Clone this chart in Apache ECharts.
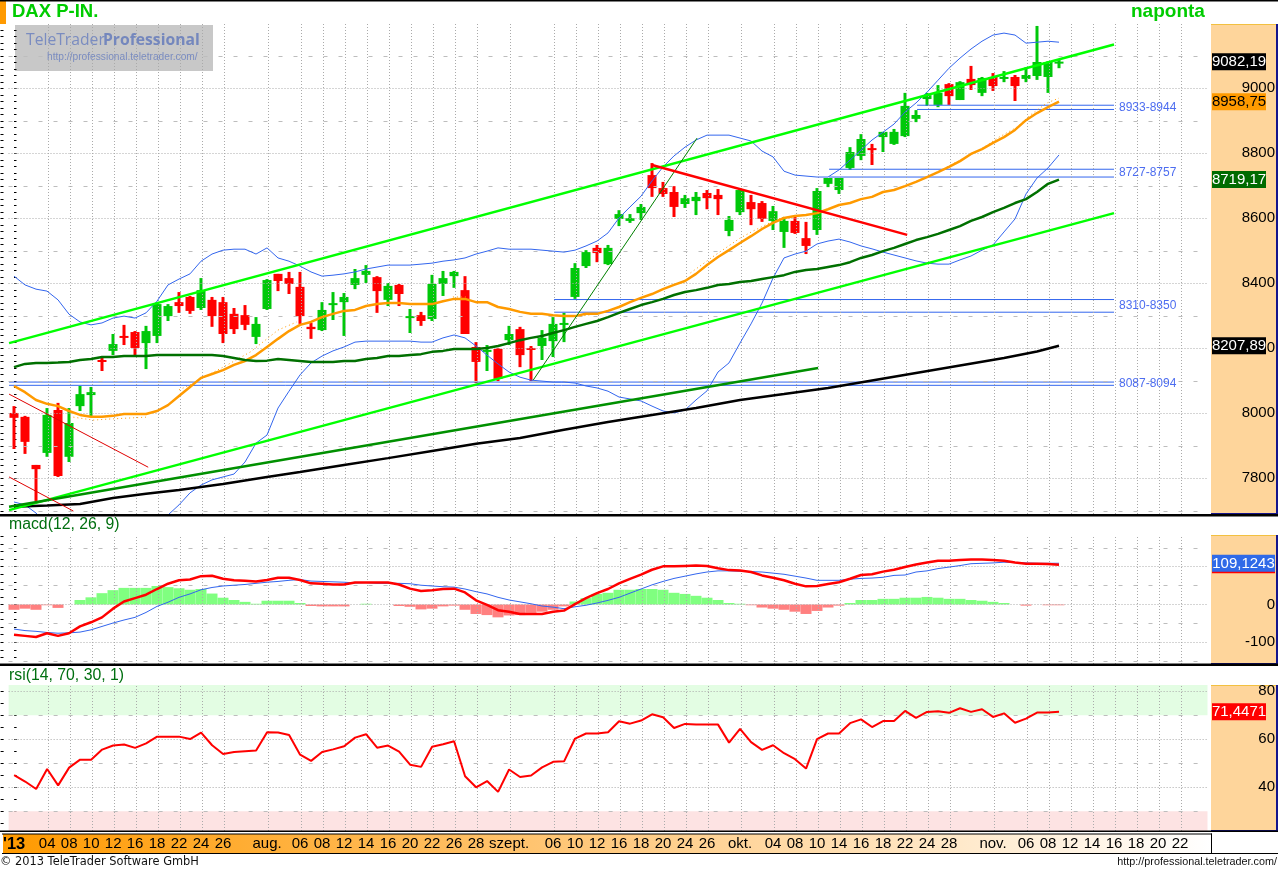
<!DOCTYPE html>
<html><head><meta charset="utf-8">
<style>html,body{margin:0;padding:0;background:#fff}#c{width:1278px;height:871px}</style>
<script src="https://cdn.jsdelivr.net/npm/echarts@6/dist/echarts.min.js"></script>
</head><body><div id="c"></div>
<script>
// [open, close, low, high] per session
const ohlc=[
[8001,7986,7890,8022],[7989,7912,7875,7992],[7841,7828,7730,7841],[7878,7995,7866,8016],[8010,7807,7804,8032],[7866,7970,7850,8016],[8022,8059,8007,8084],[8056,8065,7989,8081],
[8164,8158,8130,8173],[8192,8213,8179,8244],[8238,8232,8210,8272],[8250,8201,8179,8253],[8216,8253,8136,8269],[8238,8336,8216,8339],[8299,8330,8284,8336],[8342,8330,8309,8373],
[8358,8315,8306,8361],[8324,8379,8318,8416],[8349,8299,8266,8358],[8342,8244,8216,8358],[8306,8259,8244,8324],[8302,8272,8256,8333],[8235,8275,8213,8296],[8321,8410,8318,8413],
[8429,8407,8376,8429],[8416,8398,8367,8435],[8389,8299,8275,8435],[8266,8259,8229,8278],[8256,8318,8253,8342],[8333,8339,8287,8373],[8342,8358,8238,8370],[8395,8416,8382,8444],
[8426,8438,8401,8456],[8419,8376,8309,8422],[8349,8392,8330,8401],[8395,8367,8330,8398],[8293,8299,8247,8321],[8302,8284,8269,8312],[8290,8398,8284,8426],[8398,8416,8361,8438],
[8422,8435,8386,8438],[8379,8244,8244,8422],[8204,8158,8093,8219],[8189,8195,8130,8210],[8198,8106,8099,8201],[8225,8244,8210,8269],[8259,8179,8142,8266],[8201,8195,8099,8207],
[8207,8232,8164,8256],[8222,8275,8173,8296],[8272,8278,8219,8309],[8358,8447,8352,8462],[8453,8496,8447,8502],[8509,8493,8465,8518],[8459,8509,8456,8518],[8598,8613,8576,8625],
[8592,8601,8586,8613],[8616,8635,8595,8644],[8733,8693,8666,8770],[8693,8675,8666,8712],[8681,8635,8604,8699],[8644,8662,8632,8672],[8653,8666,8610,8681],[8678,8662,8628,8687],
[8672,8659,8610,8690],[8561,8595,8545,8607],[8619,8687,8610,8693],[8650,8628,8579,8672],[8647,8598,8589,8653],[8592,8622,8564,8638],[8558,8592,8509,8604],[8592,8555,8552,8610],
[8539,8515,8490,8589],[8564,8684,8549,8693],[8706,8724,8696,8724],[8687,8724,8675,8724],[8755,8804,8749,8819],[8792,8844,8779,8859],[8816,8810,8764,8829],[8850,8866,8804,8866],
[8829,8866,8826,8875],[8853,8946,8850,8986],[8906,8918,8896,8933],[8967,8979,8946,8986],[8949,8986,8942,9010],[9013,8976,8949,9016],[8964,9019,8964,9022],[9029,9010,8995,9069],
[8986,9032,8976,9035],[9035,9007,8992,9047],[9029,9035,9019,9053],[9035,9007,8961,9041],[9029,9041,9019,9065],[9038,9081,9026,9192],[9035,9081,8986,9084],[9078,9082.19,9062,9090]];

const maOrange=[8084,8065,8041,8029,8022,8007,7995,7989,7989,7992,7998,7998,7998,8007,8025,8053,8081,8109,8121,8133,8149,8161,8179,8204,8229,8253,8272,8281,
8296,8306,8315,8318,8330,8336,8339,8339,8336,8336,8336,8345,8352,8352,8342,8342,8327,8321,8312,8306,8306,8302,8299,8299,8306,8306,8315,8327,
8342,8355,8367,8382,8395,8407,8429,8456,8481,8502,8524,8545,8567,8586,8601,8607,8610,8616,8628,8641,8647,8659,8666,8681,8687,8699,8712,8727,8742,8758,8776,8798,8813,8832,8850,8872,8902,8924,8942,8958.75];
const orangeDots=[[5.4,7988],[7.2,7979],[8.5,7982],[12,7988],null,[15,8072],[16.2,8090],[18.5,8133],[19.4,8149],[21.5,8189],[24,8256],[25.7,8281],null,[39.9,8358],[41.2,8358],null,[51.5,8299],[53,8306],null,[61.5,8432],[63.5,8481],[66,8539],[67.2,8561],[68.7,8586],[70,8604],null,[84.8,8758],[87.8,8810],[89.4,8847],[91.2,8881],[92.4,8918],[93.9,8955],[95,8970]];
const maDarkGreen=[8142,8152,8155,8155,8156,8158,8164,8167,8173,8173,8176,8176,8176,8179,8179,8179,8179,8179,8179,8176,8170,8164,8161,8162,8167,8164,8161,8158,
8158,8158,8161,8161,8167,8170,8176,8176,8179,8182,8189,8192,8198,8198,8198,8201,8207,8216,8225,8232,8238,8247,8256,8266,8275,8284,8296,8309,
8321,8333,8342,8352,8364,8373,8379,8386,8395,8398,8404,8407,8413,8419,8425,8435,8441,8444,8450,8456,8465,8478,8487,8499,8509,8521,8533,8542,8552,8564,8576,8592,8604,8619,8632,8647,8659,8681,8706,8719.17];
const maBlack=[[0,7712],[3,7716],[6,7721],[9,7739],[12,7752],[15,7764],[19,7782],[23,7804],[26,7819],[30,7841],[34,7862],[38,7884],[42,7906],[46,7924],[50,7949],[54,7973],[58,7995],[62,8016],[66,8041],[70,8059],[74,8078],[78,8101],[82,8124],[86,8147],[90,8170],[93,8190],[95,8207.89]];
const bollUpper=[8422,8395,8382,8376,8349,8305,8281,8272,8278,8293,8299,8293,8309,8345,8395,8413,8429,8468,8490,8502,8505,8505,8490,8509,8478,8468,8453,8435,8422,8425,8429,8435,8444,8450,8456,8456,8456,8459,8462,8468,8472,8478,8490,8499,8509,8505,8505,8505,8502,8499,8496,8502,8515,8530,8555,8601,8635,8668,8715,8758,8792,8819,8841,8856,8856,8856,8847,8838,8807,8789,8745,8733,8730,8727,8727,8749,8779,8810,8841,8865,8890,8927,8955,8988,9025,9062,9093,9121,9145,9164,9170,9164,9139,9142,9145,9142];
const bollLower=[7727,7718,7693,7656,7610,7548,7518,7518,7518,7533,7564,7610,7647,7672,7687,7718,7755,7779,7795,7804,7813,7850,7908,7933,8016,8068,8118,8155,8176,8192,8204,8219,8222,8222,8222,8222,8222,8219,8219,8232,8241,8232,8207,8179,8152,8127,8111,8102,8099,8096,8096,8093,8084,8078,8068,8050,8044,8038,8022,8007,8001,8010,8041,8069,8127,8155,8216,8275,8339,8416,8478,8490,8499,8521,8530,8536,8527,8515,8506,8496,8487,8478,8469,8462,8459,8459,8472,8484,8502,8518,8558,8598,8675,8724,8755,8795];

// straight studies drawn on the chart: [[x0,y0],[x1,y1]] in session index / price
const channelTop=[[-0.45,8216],[100,9135]];
const channelBottom=[[-0.45,7702],[100,8616]];
const trendDark=[[-0.45,7712],[73.1,8139]];
const trendThinGreen=[[47.2,8102],[62.1,8847]];
const trendRed=[[58,8764],[81.2,8549]];
const trendThinRed1=[[-0.45,8059],[12.2,7834]];
const trendThinRed2=[[-0.45,7804],[5.4,7699]];
const levelNames=['8933-8944','8727-8757','8310-8350','8087-8094'];
const levelHigh=[8948,8751,8350,8096];
const levelLow=[8935,8727,8311,8086];
const levelFrom=[82.1,74.1,49.1,-0.45];
const levelTo=100;

const macdLine=[-80,-83,-86,-76,-83,-76,-58,-47,-34,-11,8,17,26,41,55,64,66,75,76,68,64,63,61,65,71,71,65,56,55,53,53,58,58,58,58,53,42,36,38,41,42,32,11,-1,-15,-19,-25,-25,-25,-19,-16,1,17,30,41,56,68,79,92,101,101,102,103,102,96,91,90,86,77,71,64,55,48,49,54,59,68,78,80,87,92,99,106,111,116,116,118,119,119,118,116,111,108,108,107,105];
const macdSignal=[-65,-69,-71,-74,-76,-75,-73,-67,-58,-49,-41,-34,-21,-5,6,19,28,39,45,49,51,53,56,59,61,64,66,62,61,60,59,57,58,56,56,56,55,51,49,47,46,41,34,28,19,12,7,2,-4,-7,-11,-6,-2,4,11,19,30,41,52,61,69,75,81,86,89,89,88,87,86,83,80,75,70,64,64,64,67,69,70,72,77,78,86,89,95,99,103,108,109,110,112,111,110,109,109,109.12];
const macdHist=[-14,-11,-14,-2,-9,0,12,19,30,38,44,44,44,49,46,43,39,41,29,18,12,7,2,10,10,10,4,-4,-5,-5,-5,0,2,0,0,-4,-6,-13,-11,-5,-3,-14,-25,-28,-34,-29,-28,-22,-19,-14,-5,8,17,28,31,39,39,41,41,39,31,28,23,18,12,4,2,-2,-8,-11,-14,-19,-25,-17,-8,-3,4,12,12,15,15,18,18,20,18,15,15,12,10,7,4,0,-3,0,-2,-2];
const rsiLine=[45.1,42.4,39.3,47.6,40.8,48.2,51.5,51.5,55.7,57.4,57.8,56.4,58.3,61.1,61.1,61.1,60.1,62.8,57.5,53.9,54.7,55,55.3,62.9,62.8,61.8,53.6,51,54.7,55.8,57.1,60.7,62.1,56.5,57.4,54.9,49.4,48.5,56.9,57.9,59.2,44.6,40,42.6,38.1,47.4,44.3,44.9,48.3,50.6,50.8,60.3,62.4,62.4,62.9,67.5,66.5,67.8,70.4,69.2,64.7,66.4,66.1,66.1,66.1,58.6,64.3,58.8,55.6,57.5,54.2,51.7,47.8,60.1,62.4,62.4,66.7,68.3,65.1,67.6,67.6,71.8,68.9,71.4,71.7,71,72.9,71.4,72.5,69.3,70.8,66.9,68.6,71.1,71.1,71.4471];

// time axis
const sessionCount=109;
const tickIndex=[0,3,5,7,9,11,13,15,17,19,23,26,28,30,32,34,36,38,40,42,45,49,51,53,55,57,59,61,63,66,69,71,73,75,77,79,81,83,85,89,92,94,96,98,100,102,104,106];
const tickNames=["'13",'04','08','10','12','16','18','22','24','26','aug.','06','08','12','14','16','20','22','26','28','szept.','06','10','12','16','18','20','24','26','okt.','04','08','10','14','16','18','22','24','28','nov.','06','08','12','14','16','18','20','22'];
const categories=new Array(sessionCount).fill('');
tickIndex.forEach((k,n)=>{categories[k]=tickNames[n];});

const priceLabels=[7800,8000,8200,8400,8600,8800,9000];
const priceDash=[7700,7900,8100,8300,8500,8700,8900,9100];
const macdLabels=[-100,0,100];
const macdDash=[-150,-50,50,150];
const rsiLabels=[40,60,80];
const rsiDash=[30,50,70];
const rsiMajorGrid=[40,60,80];

function range(a,b,s){const r=[];for(let v=a;v<=b;v+=s)r.push(v);return r;}
const COL={up:'#00c80a',down:'#ff0000',blue:'#3366ee',lime:'#00ff00',dark:'#007000',trend:'#009000',orange:'#ff9a00',grid:'#aaaaaa',dash:'#bdbdbd'};
const FONT='Liberation Sans, Arial, sans-serif';

const G=[{left:8.5,width:1199,top:24,height:490},{left:8.5,width:1199,top:535,height:129},{left:8.5,width:1199,top:685,height:146}];
const xAxis=[];
G.forEach((g,k)=>{
  xAxis.push({gridIndex:k,type:'category',data:categories,boundaryGap:true,axisLine:{show:false},axisTick:{show:false},splitLine:{show:false},
    axisLabel:k===2?{show:true,interval:0,margin:5,fontFamily:FONT,fontSize:15,color:'#000',hideOverlap:false,
      formatter:v=>v==="'13"?'{b|'+v+'}':v,rich:{b:{fontWeight:'bold',fontSize:16.5,fontFamily:FONT,color:'#000'}}}:{show:false}});
});
G.forEach((g,k)=>{xAxis.push({gridIndex:k,type:'value',min:-0.5,max:sessionCount-0.5,show:false,splitLine:{show:false}});});

function yPair(grid,min,max,ticks,labels){
  const base={gridIndex:grid,type:'value',min,max,scale:true,splitLine:{show:false},axisLine:{show:false}};
  return [
   Object.assign({},base,{position:'right',offset:1.5,axisTick:{show:true,length:2.5,customValues:ticks,lineStyle:{color:'#000',width:1}},
     axisLabel:{show:true,customValues:labels,margin:66,align:'right',padding:[2,0,0,0],verticalAlignMaxLabel:'middle',verticalAlignMinLabel:'middle',fontFamily:FONT,fontSize:15,color:'#000',formatter:v=>String(v)}}),
   Object.assign({},base,{position:'left',offset:5,axisTick:{show:true,length:3,customValues:ticks,lineStyle:{color:'#000',width:1}},axisLabel:{show:false}})
  ];
}
const yAxis=[...yPair(0,7690,9198,range(7700,9180,20),priceLabels),...yPair(1,-157.4,183.9,range(-140,180,20),macdLabels),...yPair(2,21.8,82.6,range(25,80,5),rsiLabels)];

function gridMarks(major,dash){
  const d=[];
  major.forEach(v=>d.push({yAxis:v,lineStyle:{type:[1,2],color:COL.grid,width:1}}));
  dash.forEach(v=>d.push({yAxis:v,lineStyle:{type:[4,11],color:COL.dash,width:1}}));
  tickIndex.slice(1).forEach(i=>d.push({xAxis:i+0.1,lineStyle:{type:[1,2],color:COL.grid,width:1}}));
  return d;
}
function gridSeries(k,major,dash){
  return {type:'line',xAxisIndex:3+k,yAxisIndex:2*k,data:[],silent:true,z:1,symbol:'none',
    markLine:{silent:true,symbol:'none',label:{show:false},animation:false,data:gridMarks(major,dash)}};
}
function ln(data,color,width,extra){
  return Object.assign({type:'line',data,symbol:'none',showSymbol:false,silent:true,z:5,connectNulls:false,lineStyle:{color,width},itemStyle:{color},xAxisIndex:3,yAxisIndex:0},extra||{});
}
const pairs=a=>a.map((v,i)=>[i,v]);

const series=[
 {type:'line',xAxisIndex:5,yAxisIndex:4,data:[],silent:true,z:0,symbol:'none',
  markArea:{silent:true,animation:false,data:[
    [{yAxis:70,itemStyle:{color:'#e3fde3'}},{yAxis:82.6}],
    [{yAxis:21.8,itemStyle:{color:'#fde3e3'}},{yAxis:30}]]}},
 gridSeries(0,priceLabels,priceDash),
 gridSeries(1,macdLabels,macdDash),
 gridSeries(2,rsiMajorGrid,rsiDash),
 {name:'DAX P-IN.',type:'custom',xAxisIndex:0,yAxisIndex:0,z:3,silent:true,
  data:ohlc.map((d,i)=>[i,d[0],d[1],d[2],d[3]]),encode:{x:0,y:[1,2,3,4]},
  renderItem(params,api){
    const i=api.value(0),o=api.value(1),c=api.value(2),l=api.value(3),h=api.value(4);
    const fill=c>=o?COL.up:COL.down;
    const top=api.coord([i,Math.max(o,c)]),bot=api.coord([i,Math.min(o,c)]);
    const hi=api.coord([i,h]),lo=api.coord([i,l]);
    const x=Math.round(top[0]);
    return {type:'group',children:[
      {type:'rect',shape:{x:x-1.5,y:hi[1],width:3,height:lo[1]-hi[1]},style:{fill}},
      {type:'rect',shape:{x:x-4.5,y:top[1],width:9,height:Math.max(2,bot[1]-top[1])},style:{fill}}
    ]};
  }},
 ln(pairs(bollUpper),COL.blue,1),
 ln(pairs(bollLower),COL.blue,1),
 ln(orangeDots,COL.orange,1,{lineStyle:{color:COL.orange,width:1,type:[1,3]}}),
 ln(pairs(maOrange),COL.orange,2.5),
 ln(pairs(maDarkGreen),COL.dark,2.5),
 ln(maBlack,'#000000',2.5),
 ln(channelTop,COL.lime,2.5),
 ln(channelBottom,COL.lime,2.5),
 ln(trendDark,COL.trend,2.5),
 ln(trendThinGreen,'#008000',1),
 ln(trendRed,'#ff0000',2.5),
 ln(trendThinRed1,'#e00000',1),
 ln(trendThinRed2,'#e00000',1),
];
levelNames.forEach((n,k)=>{
  series.push(ln([[levelFrom[k],levelHigh[k]],[levelTo,levelHigh[k]]],COL.blue,1,{z:4}));
  series.push(ln([[levelFrom[k],levelLow[k]],[levelTo,levelLow[k]]],COL.blue,1,{z:4}));
});
series.push(
 {name:'hist',type:'bar',xAxisIndex:1,yAxisIndex:2,barWidth:11,barGap:'-100%',z:2,silent:true,
  data:macdHist.map(v=>({value:v,itemStyle:{color:v>=0?'#80ff80':'#ff8080'}}))},
 {name:'signal',type:'line',xAxisIndex:1,yAxisIndex:2,data:macdSignal,symbol:'none',silent:true,z:5,lineStyle:{color:COL.blue,width:1}},
 {name:'macd',type:'line',xAxisIndex:1,yAxisIndex:2,data:macdLine,symbol:'none',silent:true,z:6,lineStyle:{color:'#ff0000',width:2.5}},
 {name:'rsi',type:'line',xAxisIndex:2,yAxisIndex:4,data:rsiLine,symbol:'none',silent:true,z:6,lineStyle:{color:'#ff0000',width:2}}
);

const bg=(id,x,y,w,h,fill,z)=>({id,type:'rect',silent:true,z:z===undefined?-10:z,shape:{x,y,width:w,height:h},style:{fill}});
const txt=(id,x,y,text,o)=>({id,type:'text',silent:true,z:50,x,y,style:Object.assign({text,fill:'#000',font:'15px '+FONT,align:'left',verticalAlign:'middle'},o||{})});
const panel=(id,y,h)=>[bg(id,1211,y,65,h,'#fed59b'),bg(id+'t',1211,y,65,1,'#f2c040'),bg(id+'r',1276,y,2,h,'#14148c'),bg(id+'b',1211,y+h-1,67,2,'#14148c')];
const staticGraphics=[
 bg('sq',0,1,6,23,'#ff9a00'),
 bg('wm',15,25,198,46,'#c8c8c8',-5),
 ...panel('p0',24,490),...panel('p1',535,129),...panel('p2',685,146),
 bg('l0',0,0,1278,1.5,'#000',20),
 bg('l1',0,514,1278,2.5,'#000',20),
 bg('l2',0,663.5,1278,2.5,'#000',20),
 bg('l3',0,830.5,1278,1.5,'#000',20),
 bg('l4',2,833.5,1210,1,'#000',20),
 bg('l5',2,853,1276,1,'#000',20),
 bg('l6',1211,833.5,1,20,'#000',20),
 {id:'strip',type:'rect',silent:true,z:-10,shape:{x:3,y:834,width:1208,height:19},
  style:{fill:new echarts.graphic.LinearGradient(0,0,1,0,[{offset:0,color:'#ff9a00'},{offset:0.5,color:'#ffca80'},{offset:1,color:'#ffffff'}])}},
 txt('t1',12,12,'DAX P-IN.',{font:'bold 18.5px '+FONT,fill:'#00cc00'}),
 txt('t2',1131,12,'naponta',{font:'bold 19px '+FONT,fill:'#00cc00'}),
 txt('wm1',26,41,'TeleTrader',{font:'15.7px "Open Sans", '+FONT,fill:'#7a8cc0'}),
 txt('wm2',103,41,'Professional',{font:'bold 15.7px "Open Sans", '+FONT,fill:'#7487bd'}),
 txt('wm3',47,57,'http://professional.teletrader.com/',{font:'10.2px '+FONT,fill:'#7a8cc0'}),
 txt('t3',9,525,'macd(12, 26, 9)',{font:'15.8px '+FONT,fill:'#006f10'}),
 txt('t4',9,676,'rsi(14, 70, 30, 1)',{font:'15.8px '+FONT,fill:'#006f10'}),
 txt('f1',0,862,'© 2013 TeleTrader Software GmbH',{font:'11.4px "DejaVu Sans", sans-serif',fill:'#111'}),
 txt('f2',1277,862,'http://professional.teletrader.com/',{font:'10.8px '+FONT,fill:'#111',align:'right'}),
];

const chart=echarts.init(document.getElementById('c'),null,{renderer:'canvas',width:1278,height:871});
chart.setOption({animation:false,backgroundColor:'#ffffff',tooltip:{show:false},grid:G,xAxis,yAxis,series,graphic:{elements:staticGraphics}});

// value tags on the price scales and the labels of the levels, placed through the axes
const tags=[
 {y:0,v:9082.19,text:'9082,19',bg:'#000000',fg:'#fff',w:54},
 {y:0,v:8958.75,text:'8958,75',bg:'#ff9a00',fg:'#000',w:54},
 {y:0,v:8719.17,text:'8719,17',bg:'#006b00',fg:'#fff',w:54},
 {y:0,v:8207.89,text:'8207,89',bg:'#000000',fg:'#fff',w:54},
 {y:2,v:105,text:'',bg:'#ff0000',fg:'#fff',w:63},
 {y:2,v:109.1243,text:'109,1243',bg:'#2f6ae8',fg:'#fff',w:63},
 {y:4,v:71.4471,text:'71,4471',bg:'#ff0000',fg:'#fff',w:54},
];
const extra=[];
tags.forEach((t,n)=>{
  const py=chart.convertToPixel({yAxisIndex:t.y},t.v);
  extra.push(bg('tagr'+n,1212,py-8.5,t.w,17,t.bg,40+n));
  if(t.text)extra.push(txt('tagt'+n,1212+t.w/2,py+0.5,t.text,{fill:t.fg,align:'center',font:'15px '+FONT}));
});
levelNames.forEach((n,k)=>{
  const py=chart.convertToPixel({yAxisIndex:0},(levelHigh[k]+levelLow[k])/2);
  extra.push(txt('lv'+k,1119,py,n,{font:'12px '+FONT,fill:'#4d6df0'}));
});
chart.setOption({graphic:{elements:extra}});
</script></body></html>
